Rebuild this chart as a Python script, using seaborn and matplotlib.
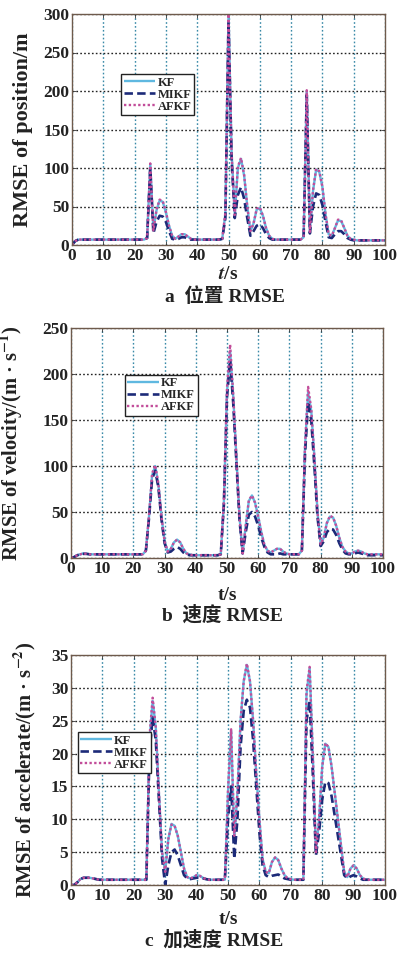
import numpy as np
import pandas as pd
import matplotlib
matplotlib.use("Agg")
import matplotlib.pyplot as plt
import seaborn as sns

# ---------------- data ----------------
t = list(range(0, 101))

pos_kf = [0, 5, 7, 7, 7, 7, 7, 7, 7, 7,
          7, 7, 7, 7, 7, 7, 7, 7, 7, 7,
          7, 7, 7, 7, 9, 105, 20, 45, 58, 56,
          42, 25, 12, 8, 11, 14, 14, 11, 8, 7,
          7, 7, 7, 7, 7, 7, 7, 7, 8, 40,
          300, 120, 40, 100, 112, 90, 50, 18, 28, 46,
          48, 38, 22, 12, 8, 7, 7, 7, 7, 7,
          7, 7, 7, 7, 10, 200, 18, 70, 98, 95,
          75, 40, 14, 12, 22, 32, 31, 22, 12, 8,
          7, 6, 6, 6, 6, 6, 6, 6, 6, 6, 6]
pos_mikf = [0, 5, 7, 7, 7, 7, 7, 7, 7, 7,
            7, 7, 7, 7, 7, 7, 7, 7, 7, 7,
            7, 7, 7, 7, 9, 100, 15, 30, 38, 37,
            30, 18, 8, 7, 8, 10, 10, 8, 7, 7,
            7, 7, 7, 7, 7, 7, 7, 7, 8, 35,
            290, 110, 35, 65, 75, 60, 35, 12, 18, 25,
            27, 22, 14, 9, 7, 7, 7, 7, 7, 7,
            7, 7, 7, 7, 10, 195, 15, 50, 67, 65,
            52, 30, 10, 9, 14, 18, 18, 14, 9, 7,
            6, 6, 6, 6, 6, 6, 6, 6, 6, 6, 6]
pos_afkf = [0, 5, 7, 7, 7, 7, 7, 7, 7, 7,
            7, 7, 7, 7, 7, 7, 7, 7, 7, 7,
            7, 7, 7, 7, 9, 106, 19, 46, 59, 57,
            43, 25, 12, 8, 11, 14, 14, 11, 8, 7,
            7, 7, 7, 7, 7, 7, 7, 7, 8, 42,
            300, 118, 39, 102, 113, 91, 50, 18, 28, 47,
            49, 38, 22, 12, 8, 7, 7, 7, 7, 7,
            7, 7, 7, 7, 10, 201, 17, 71, 99, 96,
            76, 40, 14, 12, 22, 33, 32, 22, 12, 8,
            7, 6, 6, 6, 6, 6, 6, 6, 6, 6, 6]

vel_kf = [0, 1, 3, 4, 5, 4.5, 4, 4, 4, 4,
          4, 4, 4, 4, 4, 4, 4, 4, 4, 4,
          4, 4, 4, 4, 8, 45, 90, 100, 80, 45,
          18, 7, 10, 17, 20, 17, 10, 5, 4, 3,
          3, 3, 3, 3, 3, 3, 3, 3, 4, 60,
          180, 225, 175, 110, 45, 5, 35, 62, 68, 60,
          45, 28, 14, 8, 6, 8, 10, 10, 7, 5,
          4, 4, 4, 4, 8, 120, 180, 160, 110, 50,
          15, 22, 38, 45, 44, 35, 22, 12, 7, 5,
          5, 7, 8, 7, 5, 4, 4, 4, 4, 4, 4]
vel_mikf = [0, 1, 3, 4, 4.5, 4.5, 4, 4, 4, 4,
            4, 4, 4, 4, 4, 4, 4, 4, 4, 4,
            4, 4, 4, 4, 8, 43, 86, 95, 77, 42,
            16, 6, 7, 10, 12, 10, 6, 4, 3, 3,
            3, 3, 3, 3, 3, 3, 3, 3, 4, 58,
            175, 215, 168, 105, 42, 5, 28, 47, 50, 45,
            35, 22, 12, 6, 4, 4, 4, 5, 4, 4,
            4, 4, 4, 4, 8, 112, 170, 150, 100, 45,
            13, 18, 28, 32, 31, 25, 16, 9, 5, 4,
            4, 5, 6, 5, 4, 3, 3, 3, 3, 3, 3]
vel_afkf = [0, 1, 3, 4, 5, 4.5, 4, 4, 4, 4,
            4, 4, 4, 4, 4, 4, 4, 4, 4, 4,
            4, 4, 4, 4, 8, 46, 92, 101, 81, 45,
            18, 7, 10, 17, 20, 17, 10, 5, 4, 3,
            3, 3, 3, 3, 3, 3, 3, 3, 4, 62,
            185, 232, 178, 110, 45, 5, 35, 63, 68, 60,
            45, 28, 14, 8, 6, 8, 10, 10, 7, 5,
            4, 4, 4, 4, 8, 122, 186, 162, 110, 50,
            15, 22, 38, 46, 44, 35, 22, 12, 7, 5,
            5, 7, 8, 7, 5, 4, 4, 4, 4, 4, 4]

acc_kf = [0, 0, 0.4, 0.9, 1.1, 1.1, 1.1, 1.0, 0.9, 0.8,
          0.8, 0.8, 0.8, 0.8, 0.8, 0.8, 0.8, 0.8, 0.8, 0.8,
          0.8, 0.8, 0.8, 0.8, 0.8, 22, 28, 24, 14, 5,
          2, 7, 9.3, 9, 7.5, 5, 2.5, 1.2, 1, 1.2,
          1.5, 1.4, 1.1, 0.9, 0.8, 0.8, 0.8, 0.8, 0.8, 0.8,
          14, 23.5, 7, 14, 25, 31, 33.5, 31, 25, 17,
          10, 4, 2, 1.8, 3.5, 4.2, 3.8, 2.5, 1.5, 1,
          0.9, 0.8, 0.8, 0.8, 0.8, 29, 33, 20, 5, 10,
          18, 21.5, 21, 18, 14, 10, 6, 2, 1.2, 2.5,
          3, 2.5, 1.5, 1, 0.8, 0.8, 0.8, 0.8, 0.8, 0.8, 0.8]
acc_mikf = [0, 0, 0.4, 0.9, 1.1, 1.1, 1.1, 1.0, 0.9, 0.8,
            0.8, 0.8, 0.8, 0.8, 0.8, 0.8, 0.8, 0.8, 0.8, 0.8,
            0.8, 0.8, 0.8, 0.8, 0.8, 20, 25.5, 22, 13, 4,
            0, 3, 5, 5.4, 4.5, 3, 1.5, 1, 0.9, 1,
            1.1, 1.1, 1, 0.9, 0.8, 0.8, 0.8, 0.8, 0.8, 0.8,
            10, 15, 4, 10, 21, 26.5, 28.2, 27, 22, 15,
            8, 3, 1.5, 1.2, 1.4, 1.5, 1.6, 1.3, 1, 0.9,
            0.8, 0.8, 0.8, 0.8, 0.8, 25, 28, 17, 4.5, 8,
            13, 15.7, 15.5, 13.5, 10.5, 7.5, 4.5, 1.5, 1, 1.3,
            1.5, 1.3, 1, 0.8, 0.8, 0.8, 0.8, 0.8, 0.8, 0.8, 0.8]
acc_afkf = [0, 0, 0.4, 0.9, 1.1, 1.1, 1.1, 1.0, 0.9, 0.8,
            0.8, 0.8, 0.8, 0.8, 0.8, 0.8, 0.8, 0.8, 0.8, 0.8,
            0.8, 0.8, 0.8, 0.8, 0.8, 22.5, 28.5, 24, 14, 5,
            2, 7, 9.2, 9, 7.5, 5, 2.5, 1.2, 1, 1.2,
            1.5, 1.4, 1.1, 0.9, 0.8, 0.8, 0.8, 0.8, 0.8, 0.8,
            14.5, 23.7, 7.5, 14, 25, 31, 33.7, 31, 25, 17,
            10, 4, 2, 1.8, 3.5, 4.2, 3.8, 2.5, 1.5, 1,
            0.9, 0.8, 0.8, 0.8, 0.8, 29.5, 33.2, 20, 5, 10,
            18, 21.6, 21, 18, 14, 10, 6, 2, 1.2, 2.5,
            3, 2.5, 1.5, 1, 0.8, 0.8, 0.8, 0.8, 0.8, 0.8, 0.8]

series_names = ["KF", "MIKF", "AFKF"]
ylabels = ["RMSE of position/m",
           r"RMSE of velocity/(m · s$^{-1}$)",
           r"RMSE of accelerate/(m · s$^{-2}$)"]
xlabels = [r"$\mathbfit{t}$/s", "t/s", "t/s"]
captions = ["a  位置 RMSE", "b  速度 RMSE", "c  加速度 RMSE"]
yticks_list = [[0, 50, 100, 150, 200, 250, 300],
               [0, 50, 100, 150, 200, 250],
               [0, 5, 10, 15, 20, 25, 30, 35]]
xticks = [0, 10, 20, 30, 40, 50, 60, 70, 80, 90, 100]

# ---------------- style ----------------
sns.set_style("ticks")
plt.rcParams["font.family"] = ["Liberation Serif", "Noto Sans CJK SC"]
plt.rcParams["font.weight"] = "bold"
plt.rcParams["mathtext.fontset"] = "stix"

colors = {"KF": "#5fb8e0", "MIKF": "#1c2a78", "AFKF": "#c24d9a"}
styles = {"KF": (0, ()), "MIKF": (0, (3.2, 1.6)), "AFKF": (0, (1.0, 1.0))}
widths = {"KF": 1.7, "MIKF": 1.9, "AFKF": 1.7}

fig = plt.figure(figsize=(3.98, 9.58), dpi=100)

# axes rectangles in pixels: left, top, right, bottom
rects = [(72, 14, 385, 245), (71, 328, 383, 558), (71, 655, 385, 885)]
W, H = 398, 958
leg_pos = [(0.157, 0.740), (0.173, 0.796), (0.022, 0.665)]
ylab_x = [-0.125, -0.146, -0.105]
ylab_size = [16, 14.8, 14.8]
xlab_y = [-0.092, -0.125, -0.115]
cap_y = [297, 615, 940]
cap_x = [225, 222, 214]

data = [(pos_kf, pos_mikf, pos_afkf),
        (vel_kf, vel_mikf, vel_afkf),
        (acc_kf, acc_mikf, acc_afkf)]

for i in range(3):
    l, tp, r, b = rects[i]
    ax = fig.add_axes([l / W, 1 - b / H, (r - l) / W, (b - tp) / H])
    df = pd.DataFrame({"t": t * 3,
                       "v": list(data[i][0]) + list(data[i][1]) + list(data[i][2]),
                       "s": sum([[n] * len(t) for n in series_names], [])})
    for n in series_names:
        sub = df[df["s"] == n]
        sns.lineplot(data=sub, x="t", y="v", ax=ax, color=colors[n],
                     linestyle=styles[n], linewidth=widths[n], label=n)
    ax.set_xlim(0, 100)
    ax.set_ylim(yticks_list[i][0], yticks_list[i][-1])
    ax.set_xticks(xticks)
    ax.set_yticks(yticks_list[i])
    ax.tick_params(direction="in", length=3, width=0.6, labelsize=12.5, pad=2,
                   top=True, right=True, colors="#333333", labelcolor="#222222")
    for lab in ax.get_xticklabels() + ax.get_yticklabels():
        lab.set_fontweight("bold")
    ax.xaxis.grid(True, color="#3a8aa8", linestyle=(0, (1.2, 1.6)), linewidth=1.0)
    ax.yaxis.grid(True, color="#222222", linestyle=(0, (1.2, 1.6)), linewidth=1.0)
    for sp in ax.spines.values():
        sp.set_color("#6e5a4c")
        sp.set_linewidth(1.0)
    ax.set_ylabel(ylabels[i], fontsize=ylab_size[i], fontweight="bold", color="#222222")
    ax.yaxis.set_label_coords(ylab_x[i], 0.5)
    ax.set_xlabel(xlabels[i], fontsize=14, fontweight="bold", color="#222222")
    ax.xaxis.set_label_coords(0.5, xlab_y[i])
    leg = ax.legend(loc="upper left", bbox_to_anchor=leg_pos[i], frameon=True,
                    fancybox=False, framealpha=1, edgecolor="#222222",
                    prop={"family": "Liberation Serif", "weight": "bold", "size": 9},
                    handlelength=2.5, handletextpad=0.2, borderpad=0.2,
                    labelspacing=0.0, borderaxespad=0)
    leg.get_frame().set_linewidth(1.0)
    fig.text(cap_x[i] / W, 1 - cap_y[i] / H, captions[i], ha="center", va="center",
             fontsize=14, fontweight="bold", color="#222222")

fig.savefig("out.png", dpi=100)
